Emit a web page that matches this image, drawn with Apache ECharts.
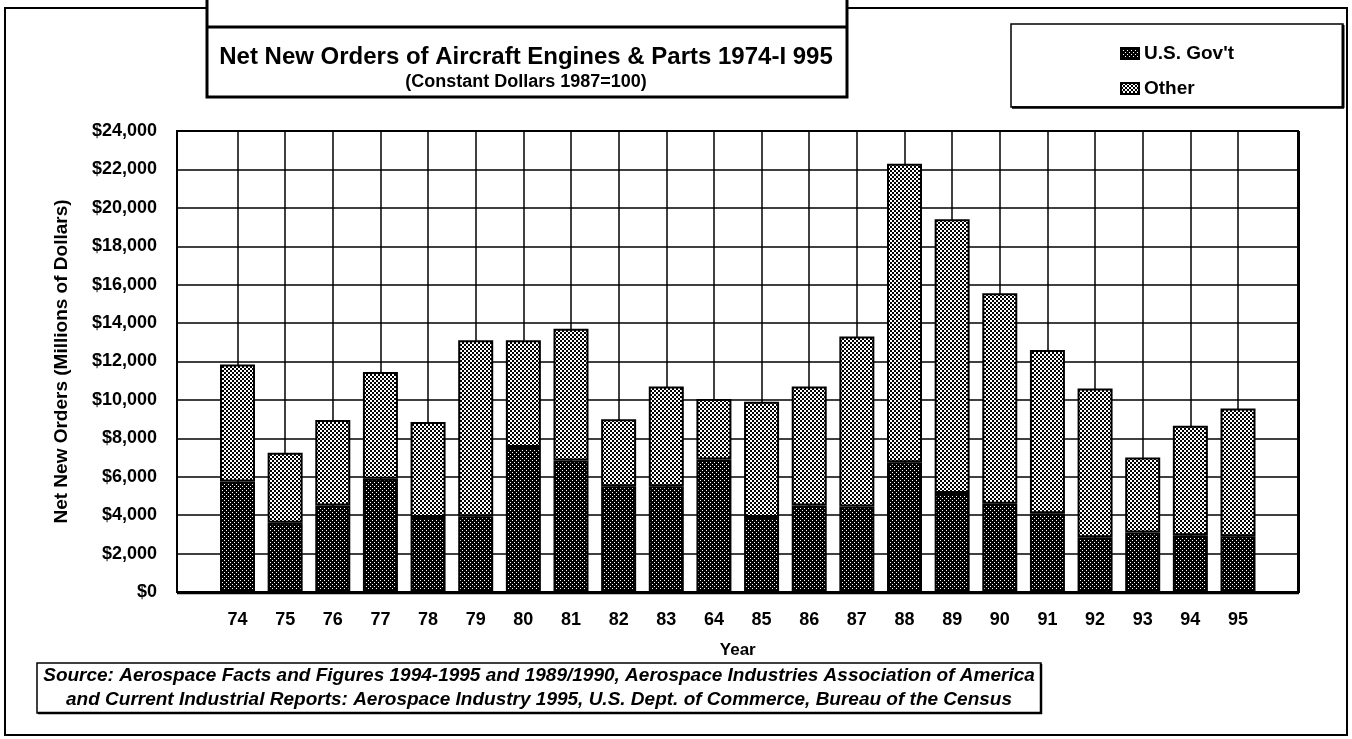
<!DOCTYPE html>
<html>
<head>
<meta charset="utf-8">
<script src="https://cdn.jsdelivr.net/npm/echarts@6/dist/echarts.min.js"></script>
<style>
html,body{margin:0;padding:0;background:#fff;}
#chart{width:1352px;height:739px;}
</style>
</head>
<body>
<div id="chart"></div>
<script>
// ---- data ----
const years = ['74','75','76','77','78','79','80','81','82','83','64','85','86','87','88','89','90','91','92','93','94','95'];
const govt  = [5750,3600,4500,5900,3900,3950,7550,6850,5500,5500,6900,3900,4500,4450,6750,5150,4600,4100,2850,3100,2950,2900];
const other = [6100,3650,4450,5550,4950,9150,5550,6850,3500,5200,3150,6000,6200,8850,15550,14250,10950,8500,7750,3900,5700,6650];
const seriesNames = ['U.S. Gov\'t', 'Other'];
const yTicks = {min: 0, max: 24000, interval: 2000};

const FONT = '"Liberation Sans", Arial, sans-serif';

function makePattern(kind) {
  const c = document.createElement('canvas');
  c.width = 4; c.height = 4;
  const ctx = c.getContext('2d');
  if (kind === 'dark') {
    ctx.fillStyle = '#000'; ctx.fillRect(0, 0, 4, 4);
    ctx.fillStyle = '#fff'; ctx.fillRect(0, 0, 1, 1); ctx.fillRect(2, 2, 1, 1);
  } else {
    ctx.fillStyle = '#fff'; ctx.fillRect(0, 0, 4, 4);
    ctx.fillStyle = '#000'; ctx.fillRect(0, 0, 2, 2); ctx.fillRect(2, 2, 2, 2);
  }
  return {image: c, repeat: 'repeat'};
}
const darkFill = makePattern('dark');
const lightFill = makePattern('light');

const chart = echarts.init(document.getElementById('chart'), null, {renderer: 'canvas'});

const option = {
  animation: false,
  backgroundColor: '#fff',
  textStyle: {fontFamily: FONT, color: '#000'},
  legend: {
    orient: 'vertical',
    left: 1115, top: 39,
    itemGap: 16,
    itemWidth: 18, itemHeight: 11,
    icon: 'rect',
    data: seriesNames,
    textStyle: {fontFamily: FONT, fontSize: 19, fontWeight: 'bold', color: '#000'}
  },
  grid: [
    {left: 177, right: 54, top: 131, bottom: 147, show: false},
    {left: 237.5, right: 114, top: 131, bottom: 147, show: false}
  ],
  xAxis: [
    {gridIndex: 0, type: 'value', min: 0, max: 1, show: false},
    {
      gridIndex: 1, type: 'category', data: years, boundaryGap: false,
      name: 'Year', nameLocation: 'middle', nameGap: 50,
      nameTextStyle: {fontFamily: FONT, fontSize: 17, fontWeight: 'bold', color: '#000'},
      axisLine: {show: false}, axisTick: {show: false},
      axisLabel: {margin: 19, fontFamily: FONT, fontSize: 18, fontWeight: 'bold', color: '#000'},
      splitLine: {show: true, lineStyle: {color: '#000', width: 1.5}}
    }
  ],
  yAxis: [
    {
      gridIndex: 0, type: 'value', min: yTicks.min, max: yTicks.max, interval: yTicks.interval,
      name: 'Net New Orders (Millions of Dollars)', nameLocation: 'middle', nameGap: 106,
      nameTextStyle: {fontFamily: FONT, fontSize: 19, fontWeight: 'bold', color: '#000'},
      axisLine: {show: true, lineStyle: {color: '#000', width: 2}},
      axisTick: {show: false},
      axisLabel: {
        margin: 20, fontFamily: FONT, fontSize: 18, fontWeight: 'bold', color: '#000',
        formatter: v => '$' + v.toLocaleString('en-US')
      },
      splitLine: {show: true, lineStyle: {color: '#000', width: 1.5}}
    },
    {gridIndex: 1, type: 'value', min: yTicks.min, max: yTicks.max, show: false, splitLine: {show: false}}
  ],
  series: [
    {
      name: seriesNames[0], type: 'bar', stack: 'total', xAxisIndex: 1, yAxisIndex: 1,
      barWidth: 35, data: govt,
      itemStyle: {color: darkFill, borderColor: '#000', borderWidth: 2}
    },
    {
      name: seriesNames[1], type: 'bar', stack: 'total', xAxisIndex: 1, yAxisIndex: 1,
      barWidth: 35, data: other,
      itemStyle: {color: lightFill, borderColor: '#000', borderWidth: 2}
    }
  ],
  graphic: [
    // outer frame
    {type: 'rect', shape: {x: 5, y: 8, width: 1342, height: 727}, style: {fill: 'none', stroke: '#000', lineWidth: 2}, z: 1},
    // plot frame (right/bottom heavier)
    {type: 'rect', shape: {x: 177, y: 131, width: 1121, height: 461}, style: {fill: 'none', stroke: '#000', lineWidth: 2}, z: 10},
    {type: 'line', shape: {x1: 1298.5, y1: 131, x2: 1298.5, y2: 593}, style: {stroke: '#000', lineWidth: 3}, z: 10},
    {type: 'line', shape: {x1: 177, y1: 593, x2: 1299, y2: 593}, style: {stroke: '#000', lineWidth: 2.5}, z: 10},
    // title box
    {type: 'rect', shape: {x: 207, y: -4, width: 640, height: 101}, style: {fill: '#fff', stroke: '#000', lineWidth: 3}, z: 20},
    {type: 'line', shape: {x1: 207, y1: 27, x2: 847, y2: 27}, style: {stroke: '#000', lineWidth: 3}, z: 21},
    {type: 'text', x: 526, y: 57, style: {text: 'Net New Orders of Aircraft Engines & Parts 1974-I 995', fontFamily: FONT, fontSize: 24, fontWeight: 'bold', fill: '#000', align: 'center', verticalAlign: 'middle'}, z: 22},
    {type: 'text', x: 526, y: 82, style: {text: '(Constant Dollars 1987=100)', fontFamily: FONT, fontSize: 18, fontWeight: 'bold', fill: '#000', align: 'center', verticalAlign: 'middle'}, z: 22},
    // legend box
    {type: 'rect', shape: {x: 1011, y: 24, width: 332, height: 83}, style: {fill: '#fff', stroke: '#000', lineWidth: 1.5}, z: -1},
    {type: 'line', shape: {x1: 1343, y1: 25, x2: 1343, y2: 108}, style: {stroke: '#000', lineWidth: 3}, z: 0},
    {type: 'line', shape: {x1: 1012, y1: 107.5, x2: 1344, y2: 107.5}, style: {stroke: '#000', lineWidth: 2.5}, z: 0},
    // source box
    {type: 'rect', shape: {x: 37, y: 663, width: 1004, height: 50}, style: {fill: '#fff', stroke: '#000', lineWidth: 1.5}, z: 20},
    {type: 'line', shape: {x1: 1041, y1: 664, x2: 1041, y2: 714}, style: {stroke: '#000', lineWidth: 2.5}, z: 21},
    {type: 'line', shape: {x1: 38, y1: 713, x2: 1042, y2: 713}, style: {stroke: '#000', lineWidth: 2.5}, z: 21},
    {type: 'text', x: 539, y: 676, style: {text: 'Source: Aerospace Facts and Figures 1994-1995 and 1989/1990, Aerospace Industries Association of America', fontFamily: FONT, fontSize: 19, fontWeight: 'bold', fontStyle: 'italic', fill: '#000', align: 'center', verticalAlign: 'middle'}, z: 22},
    {type: 'text', x: 539, y: 700, style: {text: 'and Current Industrial Reports: Aerospace Industry 1995, U.S. Dept. of Commerce, Bureau of the Census', fontFamily: FONT, fontSize: 19, fontWeight: 'bold', fontStyle: 'italic', fill: '#000', align: 'center', verticalAlign: 'middle'}, z: 22}
  ]
};
chart.setOption(option);
</script>
</body>
</html>
